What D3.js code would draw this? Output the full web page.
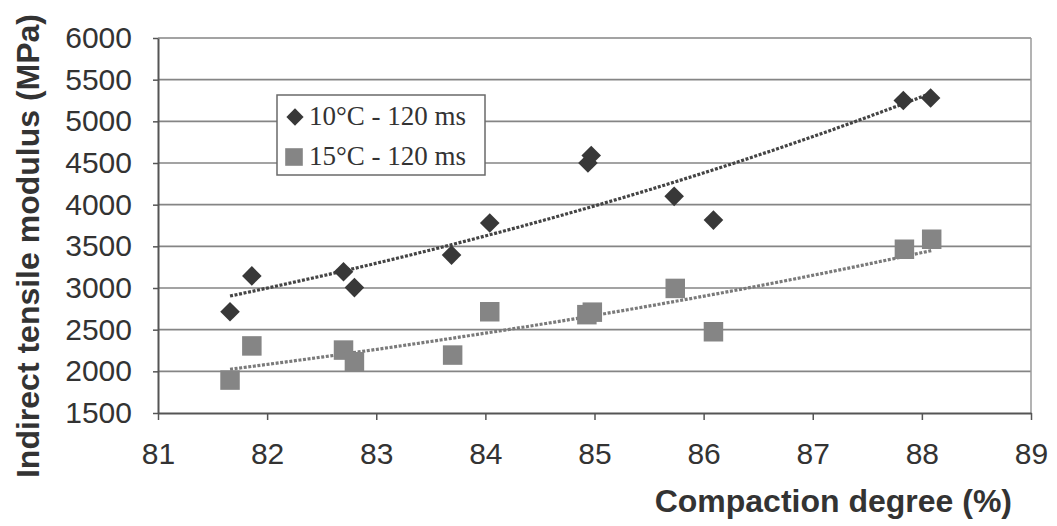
<!DOCTYPE html>
<html>
<head>
<meta charset="utf-8">
<script src="https://cdn.jsdelivr.net/npm/d3@7"></script>
<style>
  html, body { margin: 0; padding: 0; background: #fff; }
  svg { display: block; }
</style>
</head>
<body>
<svg id="chart" width="1057" height="526"></svg>
<script>
// ---- data ----
const series10Name = "10\u00B0C - 120 ms";
const series15Name = "15\u00B0C - 120 ms";
const compaction10 = [81.66, 81.86, 82.70, 82.80, 83.69, 84.04, 84.94, 84.97, 85.73, 86.09, 87.83, 88.08];
const modulus10    = [2715, 3145, 3195, 3005, 3395, 3780, 4500, 4590, 4100, 3815, 5250, 5280];
const compaction15 = [81.66, 81.86, 82.70, 82.80, 83.70, 84.04, 84.93, 84.98, 85.74, 86.09, 87.84, 88.09];
const modulus15    = [1895, 2305, 2255, 2115, 2195, 2715, 2680, 2710, 2995, 2475, 3465, 3585];
const xTicks = [81, 82, 83, 84, 85, 86, 87, 88, 89];
const yTicks = [1500, 2000, 2500, 3000, 3500, 4000, 4500, 5000, 5500, 6000];
const xTitle = "Compaction degree (%)";
const yTitle = "Indirect tensile modulus (MPa)";

// ---- layout ----
const svg = d3.select("#chart");
const L = 158, R = 1031, T = 38, B = 413;
const x = d3.scaleLinear().domain([81, 89]).range([L, R]);
const y = d3.scaleLinear().domain([1500, 6000]).range([B, T]);

const gridColor = "#858585";
const textColor = "#333";

// gridlines
svg.append("g").selectAll("line").data(yTicks.filter(v => v > 1500)).join("line")
  .attr("x1", L).attr("x2", R)
  .attr("y1", d => y(d)).attr("y2", d => y(d))
  .attr("stroke", gridColor).attr("stroke-width", 1.6);

// right border
svg.append("line").attr("x1", R).attr("x2", R).attr("y1", T).attr("y2", B)
  .attr("stroke", "#9a9a9a").attr("stroke-width", 1.5);

// axes
const xAxis = svg.append("g").attr("transform", `translate(0,${B})`)
  .call(d3.axisBottom(x).tickValues(xTicks).tickFormat(d3.format("d")).tickSize(7).tickSizeOuter(0).tickPadding(23));
const yAxis = svg.append("g").attr("transform", `translate(${L},0)`)
  .call(d3.axisLeft(y).tickValues(yTicks).tickFormat(d3.format("d")).tickSize(5).tickSizeOuter(0).tickPadding(21));
[xAxis, yAxis].forEach(g => {
  g.select(".domain").attr("stroke", "#555").attr("stroke-width", 2);
  g.selectAll(".tick line").attr("stroke", "#555").attr("stroke-width", 1.5);
  g.selectAll(".tick text").attr("fill", textColor)
    .style("font-family", "'Liberation Sans', Arial, sans-serif").style("font-size", "30px");
});

// axis titles
svg.append("text").text(xTitle)
  .attr("x", 1012).attr("y", 512).attr("text-anchor", "end")
  .attr("fill", textColor).style("font-family", "'Liberation Sans', Arial, sans-serif")
  .style("font-size", "32px").style("font-weight", "bold");
svg.append("text").text(yTitle)
  .attr("transform", `translate(39,246) rotate(-90)`).attr("text-anchor", "middle")
  .attr("fill", textColor).style("font-family", "'Liberation Sans', Arial, sans-serif")
  .style("font-size", "32px").style("font-weight", "bold");

// exponential trendline (Excel-style: regression on ln y)
function expFit(xs, ys) {
  const n = xs.length;
  const ly = ys.map(Math.log);
  const mx = d3.mean(xs), my = d3.mean(ly);
  let sxy = 0, sxx = 0;
  for (let i = 0; i < n; i++) { sxy += (xs[i] - mx) * (ly[i] - my); sxx += (xs[i] - mx) ** 2; }
  const b = sxy / sxx, a = my - b * mx;
  return v => Math.exp(a + b * v);
}
function trend(xs, ys, color) {
  const f = expFit(xs, ys);
  const [x0, x1] = d3.extent(xs);
  const pts = d3.range(0, 61).map(i => x0 + (x1 - x0) * i / 60);
  svg.append("path")
    .attr("d", d3.line().x(v => x(v)).y(v => y(f(v)))(pts))
    .attr("fill", "none").attr("stroke", color).attr("stroke-width", 3.2)
    .attr("stroke-dasharray", "3,1.6");
}

const c10 = "#383838", c15 = "#858585";
const diamond = d3.symbol().type(d3.symbolDiamond2).size(245)();
const square = d3.symbol().type(d3.symbolSquare).size(380)();

trend(compaction15, modulus15, "#7a7a7a");
trend(compaction10, modulus10, "#444");

// points
svg.append("g").selectAll("path").data(d3.range(compaction15.length)).join("path")
  .attr("d", square)
  .attr("transform", i => `translate(${x(compaction15[i])},${y(modulus15[i])})`)
  .attr("fill", c15);
svg.append("g").selectAll("path").data(d3.range(compaction10.length)).join("path")
  .attr("d", diamond)
  .attr("transform", i => `translate(${x(compaction10[i])},${y(modulus10[i])})`)
  .attr("fill", c10);

// legend
const lg = svg.append("g");
lg.append("rect").attr("x", 277).attr("y", 95).attr("width", 208).attr("height", 80)
  .attr("fill", "#fff").attr("stroke", "#6a6a6a").attr("stroke-width", 1.5);
lg.append("path").attr("d", d3.symbol().type(d3.symbolDiamond2).size(190)())
  .attr("transform", "translate(295,117)").attr("fill", c10);
lg.append("path").attr("d", d3.symbol().type(d3.symbolSquare).size(310)())
  .attr("transform", "translate(294,157)").attr("fill", c15);
[[series10Name, 125], [series15Name, 165]].forEach(([t, yy]) => {
  lg.append("text").text(t).attr("x", 309).attr("y", yy)
    .attr("fill", textColor)
    .style("font-family", "'Liberation Serif', 'Times New Roman', serif")
    .style("font-size", "27px");
});
</script>
</body>
</html>
